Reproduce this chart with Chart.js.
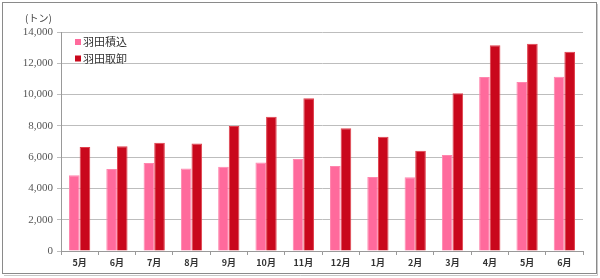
<!DOCTYPE html>
<html>
<head>
<meta charset="utf-8">
<script src="https://cdn.jsdelivr.net/npm/chart.js@4"></script>
<style>
  html, body { margin: 0; padding: 0; background: #fff; }
  #wrap { width: 600px; height: 278px; }
</style>
</head>
<body>
<div id="wrap"><canvas id="myChart" width="600" height="278"></canvas></div>
<script>
let months = ['5月','6月','7月','8月','9月','10月','11月','12月','1月','2月','3月','4月','5月','6月'];

let haneda_load = [4840, 5240, 5620, 5280, 5390, 5650, 5880, 5430, 4730, 4710, 6140, 11120, 10800, 11140];
let haneda_unload = [6650, 6690, 6920, 6880, 7990, 8590, 9760, 7840, 7310, 6410, 10080, 13150, 13250, 12740];

let series_names = ['羽田積込', '羽田取卸'];
let unit_label = '(トン)';

const pink = '#ff6a9c';
const red = '#c9081c';

// frame, unit label and legend drawn by hand
const decor = {
  id: 'decor',
  beforeDraw(chart) {
    const ctx = chart.ctx;
    ctx.save();
    ctx.fillStyle = '#fff';
    ctx.fillRect(0, 0, chart.width, chart.height);
    ctx.strokeStyle = '#8a8a8a';
    ctx.lineWidth = 1;
    ctx.strokeRect(2.5, 2.5, 594, 271);
    ctx.strokeStyle = '#c8c8c8';
    ctx.beginPath();
    ctx.moveTo(597.5, 4); ctx.lineTo(597.5, 275.5); ctx.lineTo(4, 275.5);
    ctx.stroke();
    ctx.restore();
  },
  afterDraw(chart) {
    const ctx = chart.ctx;
    ctx.save();
    ctx.fillStyle = '#444';
    ctx.font = '10px "Noto Sans CJK JP"';
    ctx.textBaseline = 'middle';
    ctx.textAlign = 'left';
    ctx.fillText(unit_label, 25, 18);

    ctx.font = '11px "Noto Sans CJK JP"';
    chart.data.datasets.forEach(function(ds, i) {
      let y = 42 + i * 16.5;
      ctx.fillStyle = ds.backgroundColor;
      ctx.fillRect(75, y - 3, 6, 6);
      ctx.fillStyle = '#333';
      ctx.fillText(ds.label, 83, y);
    });
    ctx.restore();
  }
};

let data = {
  labels: months,
  datasets: [{
    label: series_names[0],
    backgroundColor: pink,
    borderColor: '#ff86ae',
    borderWidth: 1,
    data: haneda_load,
  }, {
    label: series_names[1],
    backgroundColor: red,
    borderColor: '#e0404c',
    borderWidth: 1,
    data: haneda_unload,
  }]
};

let config = {
  type: 'bar',
  data: data,
  plugins: [decor],
  options: {
    responsive: false,
    animation: false,
    layout: { padding: { top: 32, right: 17, left: 0, bottom: 0 } },
    categoryPercentage: 0.57,
    barPercentage: 1.0,
    plugins: {
      legend: { display: false },
      tooltip: { enabled: false }
    },
    scales: {
      x: {
        afterFit: function(scale) { scale.height = 27; },
        grid: {
          offset: true,
          drawOnChartArea: false,
          drawTicks: true,
          tickLength: 4,
          color: '#999'
        },
        border: { color: '#999' },
        ticks: {
          color: '#333',
          padding: 2,
          font: { family: '"Noto Sans CJK JP"', size: 9, weight: 'bold' }
        }
      },
      y: {
        min: 0,
        max: 14000,
        afterFit: function(scale) { scale.width = 61; },
        grid: {
          color: '#bdbdbd',
          tickLength: 4,
          drawTicks: true
        },
        border: { color: '#999' },
        ticks: {
          stepSize: 2000,
          color: '#555',
          padding: 4,
          font: { family: '"Liberation Serif"', size: 11 },
          callback: function(v) { return v.toLocaleString('en-US'); }
        }
      }
    }
  }
};

let myChart = new Chart(document.getElementById('myChart'), config);
</script>
</body>
</html>
